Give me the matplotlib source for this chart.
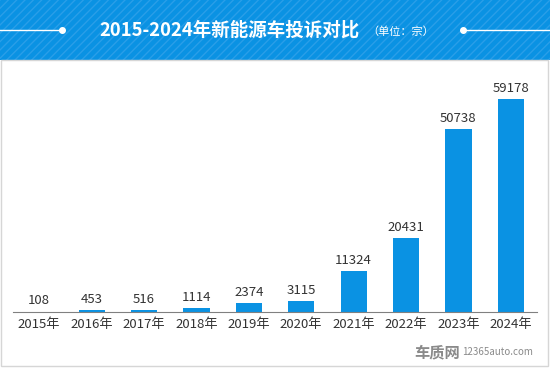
import matplotlib
matplotlib.use('Agg')
import matplotlib.pyplot as plt
from matplotlib.patches import Rectangle
import numpy as np

plt.rcParams['font.family'] = ['Noto Sans CJK SC', 'DejaVu Sans']

years = ['2015年', '2016年', '2017年', '2018年', '2019年',
         '2020年', '2021年', '2022年', '2023年', '2024年']
complaints = [108, 453, 516, 1114, 2374, 3115, 11324, 20431, 50738, 59178]

blue = '#0a92e3'

fig = plt.figure(figsize=(5.5, 3.68), dpi=100)

# header band
fig.patches.append(Rectangle((0, 0.837), 1, 0.163, transform=fig.transFigure,
                             facecolor=blue, edgecolor='none', zorder=0))
fig.patches.append(Rectangle((0, 0.837), 1, 0.163, transform=fig.transFigure,
                             facecolor='none', edgecolor='#2a9ee8', hatch='////',
                             linewidth=0, zorder=0))
# light frame round the white area
fig.patches.append(Rectangle((0.002, 0.005), 0.995, 0.832, transform=fig.transFigure,
                             facecolor='none', edgecolor='#d6d6d6', linewidth=1, zorder=0))

fig.text(0.418, 0.918, '2015-2024年新能源车投诉对比', color='white', fontsize=13.3,
         fontweight='bold', ha='center', va='center')
fig.text(0.728, 0.913, '（单位：宗）', color='white', fontsize=8, ha='center', va='center')

# decorative lines with dots
fig.add_artist(plt.Line2D([0, 0.113], [0.918, 0.918], color='white', lw=1, transform=fig.transFigure))
fig.add_artist(plt.Line2D([0.113], [0.918], color='white', marker='o', ms=4, transform=fig.transFigure))
fig.add_artist(plt.Line2D([0.842, 1], [0.918, 0.918], color='white', lw=1, transform=fig.transFigure))
fig.add_artist(plt.Line2D([0.842], [0.918], color='white', marker='o', ms=4, transform=fig.transFigure))

ax = fig.add_axes([13 / 550, 56 / 368, 524 / 550, 242 / 368])
x = np.arange(len(years))
bars = ax.bar(x, complaints, width=0.5, color=blue)
for xi, v in zip(x, complaints):
    ax.annotate(str(v), (xi, v), xytext=(0, 3), textcoords='offset points',
                ha='center', va='bottom', fontsize=9.5, color='#333333')

ax.set_xlim(-0.5, len(years) - 0.5)
ax.set_ylim(0, 242 / 213 * 59178)
ax.set_xticks(x)
ax.set_xticklabels(years, fontsize=9.5, color='#333333')
ax.tick_params(axis='x', length=0, pad=4)
ax.set_yticks([])
for s in ['top', 'right', 'left']:
    ax.spines[s].set_visible(False)
ax.spines['bottom'].set_color('#808080')
ax.patch.set_alpha(0)

# watermark
fig.text(0.795, 0.043, '车质网', color='#8a8a8a', fontsize=11, fontweight='bold',
         ha='center', va='center')
fig.text(0.905, 0.043, '12365auto.com', color='#8a8a8a', fontsize=7,
         ha='center', va='center')

fig.savefig('out.png', dpi=100)
